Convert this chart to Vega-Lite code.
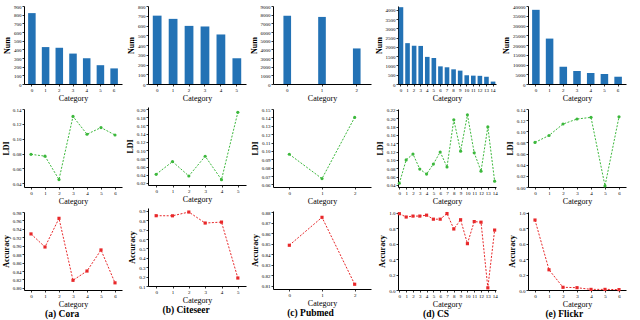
{
  "$schema": "https://vega.github.io/schema/vega-lite/v6.json",
  "padding": {"left": 2, "top": 4, "right": 2, "bottom": 2},
  "background": "white",
  "config": {
    "font": "Liberation Serif",
    "view": {"stroke": null},
    "axis": {"grid": false, "domainColor": "black", "tickColor": "black", "labelColor": "black", "titleColor": "black", "labelFontSize": 5, "titleFontSize": 8, "tickSize": 2, "labelPadding": 1, "titlePadding": 2, "domainWidth": 1, "tickWidth": 0.8, "labelAngle": 0},
    "axisY": {"titleFontWeight": "bold"},
    "axisX": {"titleFontWeight": "normal"},
    "title": {"font": "Liberation Serif", "fontSize": 9.5, "fontWeight": "bold", "color": "black", "anchor": "middle"},
    "concat": {"spacing": 4}
  },
  "datasets": {
    "cora": [
      {"cat": 0, "num": 818, "ldi": 0.079, "acc": 0.928},
      {"cat": 1, "num": 426, "ldi": 0.0765, "acc": 0.897},
      {"cat": 2, "num": 418, "ldi": 0.045, "acc": 0.965},
      {"cat": 3, "num": 351, "ldi": 0.130, "acc": 0.818},
      {"cat": 4, "num": 298, "ldi": 0.106, "acc": 0.840},
      {"cat": 5, "num": 217, "ldi": 0.115, "acc": 0.890},
      {"cat": 6, "num": 180, "ldi": 0.105, "acc": 0.812}
    ],
    "citeseer": [
      {"cat": 0, "num": 701, "ldi": 0.041, "acc": 0.848},
      {"cat": 1, "num": 668, "ldi": 0.072, "acc": 0.847},
      {"cat": 2, "num": 596, "ldi": 0.037, "acc": 0.887},
      {"cat": 3, "num": 590, "ldi": 0.085, "acc": 0.770},
      {"cat": 4, "num": 508, "ldi": 0.028, "acc": 0.780},
      {"cat": 5, "num": 264, "ldi": 0.192, "acc": 0.185}
    ],
    "pubmed": [
      {"cat": 0, "num": 7875, "ldi": 0.096, "acc": 0.8485},
      {"cat": 1, "num": 7739, "ldi": 0.067, "acc": 0.875},
      {"cat": 2, "num": 4103, "ldi": 0.140, "acc": 0.8115}
    ],
    "cs": [
      {"cat": 0, "num": 4136, "ldi": 0.044, "acc": 0.988},
      {"cat": 1, "num": 2200, "ldi": 0.100, "acc": 0.945},
      {"cat": 2, "num": 2060, "ldi": 0.114, "acc": 0.957},
      {"cat": 3, "num": 2050, "ldi": 0.078, "acc": 0.957},
      {"cat": 4, "num": 1460, "ldi": 0.066, "acc": 0.969},
      {"cat": 5, "num": 1400, "ldi": 0.090, "acc": 0.917},
      {"cat": 6, "num": 950, "ldi": 0.119, "acc": 0.917},
      {"cat": 7, "num": 900, "ldi": 0.083, "acc": 0.990},
      {"cat": 8, "num": 790, "ldi": 0.196, "acc": 0.790},
      {"cat": 9, "num": 720, "ldi": 0.121, "acc": 0.910},
      {"cat": 10, "num": 470, "ldi": 0.208, "acc": 0.600},
      {"cat": 11, "num": 450, "ldi": 0.117, "acc": 0.886},
      {"cat": 12, "num": 440, "ldi": 0.073, "acc": 0.878},
      {"cat": 13, "num": 390, "ldi": 0.179, "acc": 0.028},
      {"cat": 14, "num": 130, "ldi": 0.049, "acc": 0.776}
    ],
    "flickr": [
      {"cat": 0, "num": 38040, "ldi": 0.080, "acc": 0.906},
      {"cat": 1, "num": 23290, "ldi": 0.0925, "acc": 0.262},
      {"cat": 2, "num": 8850, "ldi": 0.113, "acc": 0.035},
      {"cat": 3, "num": 6680, "ldi": 0.122, "acc": 0.030},
      {"cat": 4, "num": 5590, "ldi": 0.125, "acc": 0.008},
      {"cat": 5, "num": 5120, "ldi": 0.002, "acc": 0.008},
      {"cat": 6, "num": 3730, "ldi": 0.126, "acc": 0.005}
    ]
  },
  "hconcat": [
    {
      "title": {"text": "(a) Cora", "orient": "bottom", "offset": 1, "anchor": "middle"},
      "spacing": 5,
      "vconcat": [
        {"width": 98, "height": 78, "data": {"name": "cora"}, "mark": {"type": "bar", "color": "#2372b5"},
         "encoding": {"x": {"field": "cat", "type": "ordinal", "title": "Category", "scale": {"paddingInner": 0.45, "paddingOuter": 0.3}},
                      "y": {"field": "num", "type": "quantitative", "title": "Num", "scale": {"domain": [0, 900]}, "axis": {"tickCount": 9, "format": "d"}}}},
        {"width": 98, "height": 78, "data": {"name": "cora"}, "mark": {"type": "line", "color": "#3cb83c", "strokeDash": [2, 1.5], "strokeWidth": 1, "point": {"filled": true, "size": 10, "color": "#3cb83c"}},
         "encoding": {"x": {"field": "cat", "type": "ordinal", "title": "Category"},
                      "y": {"field": "ldi", "type": "quantitative", "title": "LDI", "scale": {"domain": [0.035, 0.14]}, "axis": {"tickCount": 5}}}},
        {"width": 98, "height": 78, "data": {"name": "cora"}, "mark": {"type": "line", "color": "#e8282a", "strokeDash": [2, 1.5], "strokeWidth": 1, "point": {"filled": true, "size": 10, "shape": "square", "color": "#e8282a"}},
         "encoding": {"x": {"field": "cat", "type": "ordinal", "title": "Category"},
                      "y": {"field": "acc", "type": "quantitative", "title": "Accuracy", "scale": {"domain": [0.795, 0.98]}, "axis": {"tickCount": 9}}}}
      ]
    },
    {
      "title": {"text": "(b) Citeseer", "orient": "bottom", "offset": 1, "anchor": "middle"},
      "spacing": 5,
      "vconcat": [
        {"width": 98, "height": 78, "data": {"name": "citeseer"}, "mark": {"type": "bar", "color": "#2372b5"},
         "encoding": {"x": {"field": "cat", "type": "ordinal", "title": "Category", "scale": {"paddingInner": 0.45, "paddingOuter": 0.3}},
                      "y": {"field": "num", "type": "quantitative", "title": "Num", "scale": {"domain": [0, 800]}, "axis": {"tickCount": 8, "format": "d"}}}},
        {"width": 98, "height": 78, "data": {"name": "citeseer"}, "mark": {"type": "line", "color": "#3cb83c", "strokeDash": [2, 1.5], "strokeWidth": 1, "point": {"filled": true, "size": 10, "color": "#3cb83c"}},
         "encoding": {"x": {"field": "cat", "type": "ordinal", "title": "Category"},
                      "y": {"field": "ldi", "type": "quantitative", "title": "LDI", "scale": {"domain": [0.015, 0.205]}, "axis": {"tickCount": 9}}}},
        {"width": 98, "height": 78, "data": {"name": "citeseer"}, "mark": {"type": "line", "color": "#e8282a", "strokeDash": [2, 1.5], "strokeWidth": 1, "point": {"filled": true, "size": 10, "shape": "square", "color": "#e8282a"}},
         "encoding": {"x": {"field": "cat", "type": "ordinal", "title": "Category"},
                      "y": {"field": "acc", "type": "quantitative", "title": "Accuracy", "scale": {"domain": [0.1, 0.93]}, "axis": {"tickCount": 8}}}}
      ]
    },
    {
      "title": {"text": "(c) Pubmed", "orient": "bottom", "offset": 1, "anchor": "middle"},
      "spacing": 5,
      "vconcat": [
        {"width": 98, "height": 78, "data": {"name": "pubmed"}, "mark": {"type": "bar", "color": "#2372b5"},
         "encoding": {"x": {"field": "cat", "type": "ordinal", "title": "Category", "scale": {"paddingInner": 0.78, "paddingOuter": 0.3}},
                      "y": {"field": "num", "type": "quantitative", "title": "Num", "scale": {"domain": [0, 9000]}, "axis": {"tickCount": 9, "format": "d"}}}},
        {"width": 98, "height": 78, "data": {"name": "pubmed"}, "mark": {"type": "line", "color": "#3cb83c", "strokeDash": [2, 1.5], "strokeWidth": 1, "point": {"filled": true, "size": 10, "color": "#3cb83c"}},
         "encoding": {"x": {"field": "cat", "type": "ordinal", "title": "Category"},
                      "y": {"field": "ldi", "type": "quantitative", "title": "LDI", "scale": {"domain": [0.057, 0.15]}, "axis": {"tickCount": 9}}}},
        {"width": 98, "height": 78, "data": {"name": "pubmed"}, "mark": {"type": "line", "color": "#e8282a", "strokeDash": [2, 1.5], "strokeWidth": 1, "point": {"filled": true, "size": 10, "shape": "square", "color": "#e8282a"}},
         "encoding": {"x": {"field": "cat", "type": "ordinal", "title": "Category"},
                      "y": {"field": "acc", "type": "quantitative", "title": "Accuracy", "scale": {"domain": [0.807, 0.881]}, "axis": {"tickCount": 7}}}}
      ]
    },
    {
      "title": {"text": "(d) CS", "orient": "bottom", "offset": 1, "anchor": "middle"},
      "spacing": 5,
      "vconcat": [
        {"width": 98, "height": 78, "data": {"name": "cs"}, "mark": {"type": "bar", "color": "#2372b5"},
         "encoding": {"x": {"field": "cat", "type": "ordinal", "title": "Category", "scale": {"paddingInner": 0.3, "paddingOuter": 0.1}},
                      "y": {"field": "num", "type": "quantitative", "title": "Num", "scale": {"domain": [0, 4200]}, "axis": {"tickCount": 8, "format": "d"}}}},
        {"width": 98, "height": 78, "data": {"name": "cs"}, "mark": {"type": "line", "color": "#3cb83c", "strokeDash": [2, 1.5], "strokeWidth": 1, "point": {"filled": true, "size": 10, "color": "#3cb83c"}},
         "encoding": {"x": {"field": "cat", "type": "ordinal", "title": "Category", "scale": {"padding": 0.2}},
                      "y": {"field": "ldi", "type": "quantitative", "title": "LDI", "scale": {"domain": [0.035, 0.222]}, "axis": {"tickCount": 9}}}},
        {"width": 98, "height": 78, "data": {"name": "cs"}, "mark": {"type": "line", "color": "#e8282a", "strokeDash": [2, 1.5], "strokeWidth": 1, "point": {"filled": true, "size": 10, "shape": "square", "color": "#e8282a"}},
         "encoding": {"x": {"field": "cat", "type": "ordinal", "title": "Category", "scale": {"padding": 0.2}},
                      "y": {"field": "acc", "type": "quantitative", "title": "Accuracy", "scale": {"domain": [0, 1.01]}, "axis": {"tickCount": 5}}}}
      ]
    },
    {
      "title": {"text": "(e) Flickr", "orient": "bottom", "offset": 1, "anchor": "middle"},
      "spacing": 5,
      "vconcat": [
        {"width": 98, "height": 78, "data": {"name": "flickr"}, "mark": {"type": "bar", "color": "#2372b5"},
         "encoding": {"x": {"field": "cat", "type": "ordinal", "title": "Category", "scale": {"paddingInner": 0.45, "paddingOuter": 0.3}},
                      "y": {"field": "num", "type": "quantitative", "title": "Num", "scale": {"domain": [0, 40000]}, "axis": {"tickCount": 8, "format": "d"}}}},
        {"width": 98, "height": 78, "data": {"name": "flickr"}, "mark": {"type": "line", "color": "#3cb83c", "strokeDash": [2, 1.5], "strokeWidth": 1, "point": {"filled": true, "size": 10, "color": "#3cb83c"}},
         "encoding": {"x": {"field": "cat", "type": "ordinal", "title": "Category"},
                      "y": {"field": "ldi", "type": "quantitative", "title": "LDI", "scale": {"domain": [0, 0.14]}, "axis": {"tickCount": 7}}}},
        {"width": 98, "height": 78, "data": {"name": "flickr"}, "mark": {"type": "line", "color": "#e8282a", "strokeDash": [2, 1.5], "strokeWidth": 1, "point": {"filled": true, "size": 10, "shape": "square", "color": "#e8282a"}},
         "encoding": {"x": {"field": "cat", "type": "ordinal", "title": "Category"},
                      "y": {"field": "acc", "type": "quantitative", "title": "Accuracy", "scale": {"domain": [0, 1.01]}, "axis": {"tickCount": 5}}}}
      ]
    }
  ]
}
